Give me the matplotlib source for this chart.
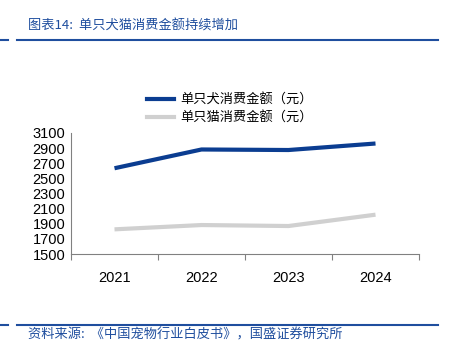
import matplotlib.pyplot as plt
import matplotlib
from matplotlib.lines import Line2D

matplotlib.rcParams['font.family'] = ['Liberation Sans', 'Noto Sans CJK SC', 'DejaVu Sans']

years = ['2021', '2022', '2023', '2024']
dog_spend = [2634, 2882, 2875, 2961]
cat_spend = [1826, 1883, 1870, 2020]
y_ticks = [1500, 1700, 1900, 2100, 2300, 2500, 2700, 2900, 3100]

title = '图表14:  单只犬猫消费金额持续增加'
source = '资料来源:  《中国宠物行业白皮书》，国盛证券研究所'
dog_label = '单只犬消费金额（元）'
cat_label = '单只猫消费金额（元）'

navy = '#0B3D91'
gray = '#D0D0D0'
head = '#1F4E9E'

fig = plt.figure(figsize=(4.5, 3.55), dpi=100)
W, H = 450, 355
ax = fig.add_axes([71 / W, 1 - 254 / H, (419 - 71) / W, (254 - 133) / H])

x = range(len(years))
ax.plot(x, dog_spend, color=navy, linewidth=3.0, solid_capstyle='butt')
ax.plot(x, cat_spend, color=gray, linewidth=3.0, solid_capstyle='butt')

ax.set_xlim(-0.5, len(years) - 0.5)
ax.set_ylim(1500, 3100)
ax.set_yticks(y_ticks)
ax.set_yticklabels([str(v) for v in y_ticks], fontsize=10.5)
ax.set_xticks(list(x))
ax.set_xticklabels(years, fontsize=10.5)
ax.set_xticks([i - 0.5 for i in range(len(years) + 1)], minor=True)
ax.tick_params(axis='x', which='major', length=0, pad=12)
ax.tick_params(axis='x', which='minor', length=4, color='#808080', width=0.8)
ax.tick_params(axis='y', length=0, pad=4)
for s in ['top', 'right']:
    ax.spines[s].set_visible(False)
for s in ['left', 'bottom']:
    ax.spines[s].set_color('#808080')
    ax.spines[s].set_linewidth(0.8)

# legend
handles = [Line2D([], [], color=navy, linewidth=3.0),
           Line2D([], [], color=gray, linewidth=3.0)]
fig.legend(handles, [dog_label, cat_label], loc='center',
           bbox_to_anchor=(230 / W, 1 - 109 / H), frameon=False,
           handlelength=2.0, handletextpad=0.5, labelspacing=0.35,
           prop={'family': ['Noto Sans CJK SC'], 'size': 9.5})

# header and footer
for yy in [40, 325]:
    fig.add_artist(Line2D([0 / W, 8 / W], [1 - yy / H] * 2, color=head, linewidth=1.5))
    fig.add_artist(Line2D([17 / W, 438 / W], [1 - yy / H] * 2, color=head, linewidth=1.5))
fig.text(28 / W, 1 - 26 / H, title, fontsize=9.5, color=head, va='center',
         family=['Noto Sans CJK SC'])
fig.text(28 / W, 1 - 335 / H, source, fontsize=9.5, color=head, va='center',
         family=['Noto Sans CJK SC'])

fig.savefig('out.png', dpi=100)
